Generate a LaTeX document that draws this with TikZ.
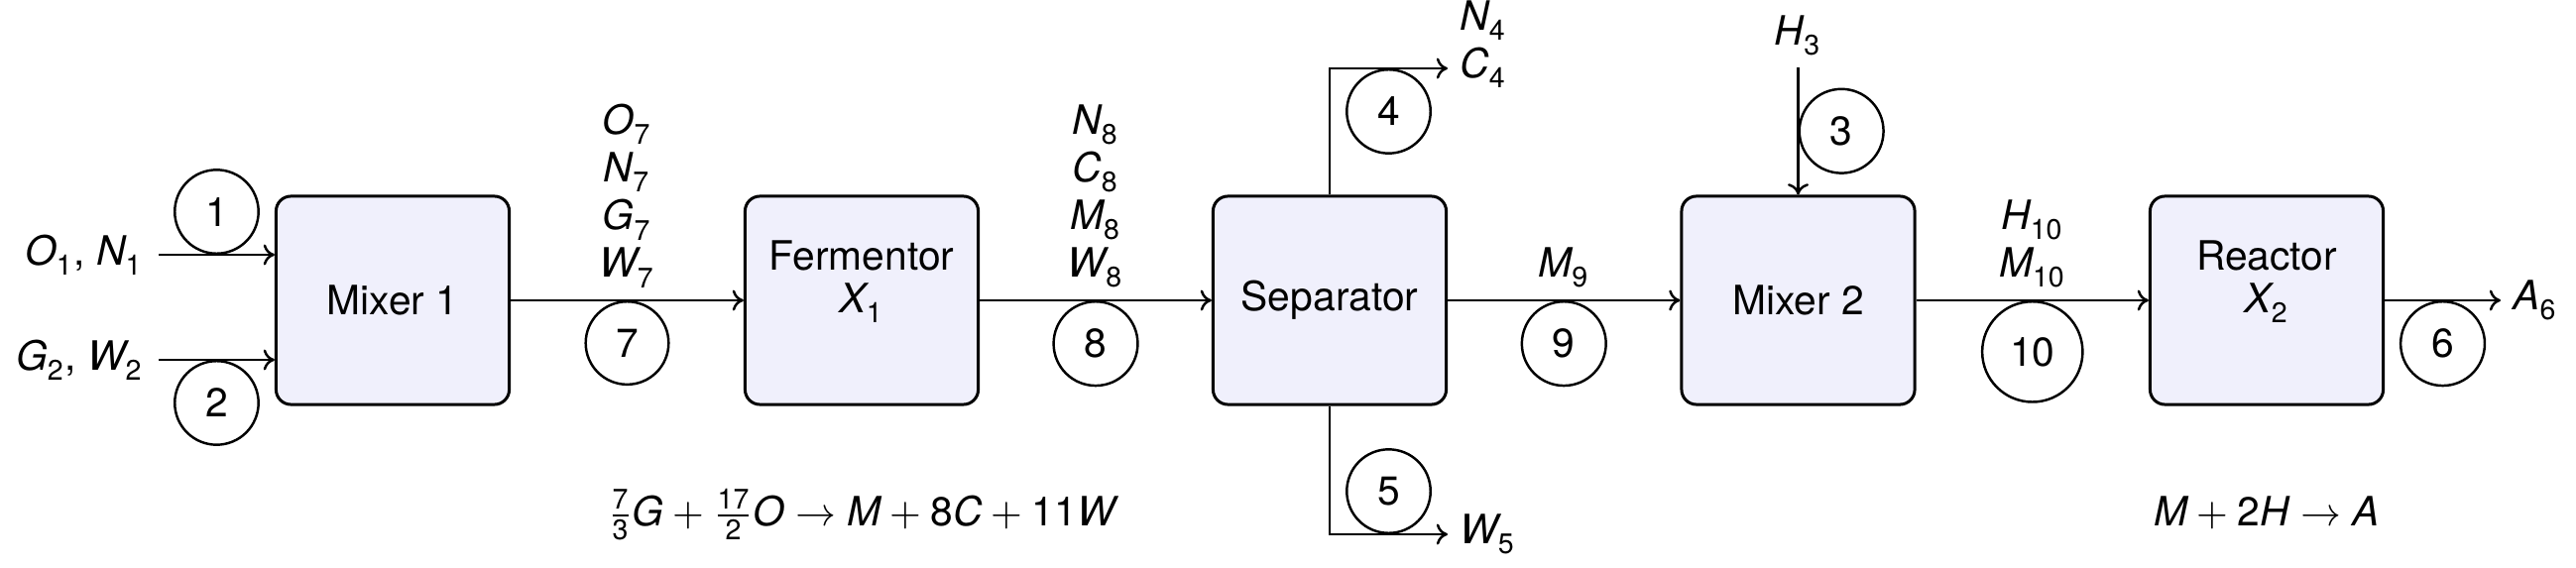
\documentclass[tikz,border=0pt]{standalone}
\usepackage{fontspec}
\usepackage{unicode-math}
\setmainfont{TeX Gyre Heros}
\setmathfont{Latin Modern Math}
\setmathfont{texgyreheros-italic.otf}[range={\mathit/{latin,Latin}}]
\setmathfont{texgyreheros-regular.otf}[range={\mathup/{num}}]
\usetikzlibrary{arrows.meta}
\definecolor{boxfill}{RGB}{240,240,252}
\tikzset{
  unitbox/.style={draw, line width=0.85pt, fill=boxfill, rounded corners=0.15cm,
    minimum width=2.35cm, minimum height=2.1cm, inner sep=0pt},
  boxtext/.style={align=center, font=\fontsize{11.6pt}{12.15pt}\selectfont},
  num/.style={draw, circle, line width=0.7pt, inner sep=4.8pt},
  flow/.style={line width=0.7pt, -{To[length=3.2pt,width=6pt]}},
}
\begin{document}
\begin{tikzpicture}[x=0.01cm, y=-0.01cm, font=\fontsize{11.6pt}{13.66pt}\selectfont]
\useasboundingbox (0,0) rectangle (2598,573);

% units
\node[unitbox] (m1) at (396,303) {Mixer 1};
\node[unitbox] (fe) at (869,303) {};
\node[boxtext] (fet) at (869,284.5) {Fermentor\\$X_1$};
\node[unitbox] (se) at (1341,303) {Separator};
\node[unitbox] (m2) at (1813.5,303) {Mixer 2};
\node[unitbox] (re) at (2286,303) {};
\node[boxtext] (ret) at (2286,284.5) {Reactor\\$X_2$};

% stream 1 and 2
\coordinate (s1) at (160,257);
\node[anchor=east, inner sep=0.15cm] (l1) at (s1) {$O_1$, $N_1$};
\draw[flow] (s1) -- node[num, anchor=south] (c1) {1} (s1 -| m1.west);
\coordinate (s2) at (160,363);
\node[anchor=east, inner sep=0.15cm] (l2) at (s2) {$G_2$, $W_2$};
\draw[flow] (s2) -- node[num, anchor=north] (c2) {2} (s2 -| m1.west);

% main line
\draw[flow] (m1) -- node[above, align=center] (l7) {$O_7$\\$N_7$\\$G_7$\\$W_7$}
  node[num, below] (c7) {7} (fe);
\draw[flow] (fe) -- node[above, align=center] (l8) {$N_8$\\$C_8$\\$M_8$\\$W_8$}
  node[num, below] (c8) {8} (se);
\draw[flow] (se) -- node[above] (l9) {$M_9$} node[num, below] (c9) {9} (m2);
\draw[flow] (m2) -- node[above, align=center] (l10) {$H_{10}$\\$M_{10}$}
  node[num, below] (c10) {10} (re);
\coordinate (s6) at (2522,303);
\draw[flow] (re) -- node[num, below] (c6) {6} (s6);
\node[right] (l6) at (s6) {$A_6$};

% stream 4 and 5
\coordinate (s4) at (1460,69);
\draw[flow] (se.north) -- (se.north |- s4) -- node[num, below] (c4) {4} (s4);
\node[anchor=west, align=left, yshift=0.24cm] (l4) at (s4) {$N_4$\\$C_4$};
\coordinate (s5) at (1460,539);
\draw[flow] (se.south) -- (se.south |- s5) -- node[num, above] (c5) {5} (s5);
\node[right] (l5) at (s5) {$W_5$};

% stream 3
\coordinate (s3) at (1813.5,68);
\node[above] (l3) at (s3) {$H_3$};
\draw[flow] (s3) -- node[num, right] (c3) {3} (m2);

% reactions
\node[anchor=base] (r1) at (869,530) {$\frac{7}{3}G+\frac{17}{2}O\rightarrow M+8C+11W$};
\node[anchor=base] (r2) at (2286,530) {$M+2H\rightarrow A$};
\end{tikzpicture}
\end{document}
